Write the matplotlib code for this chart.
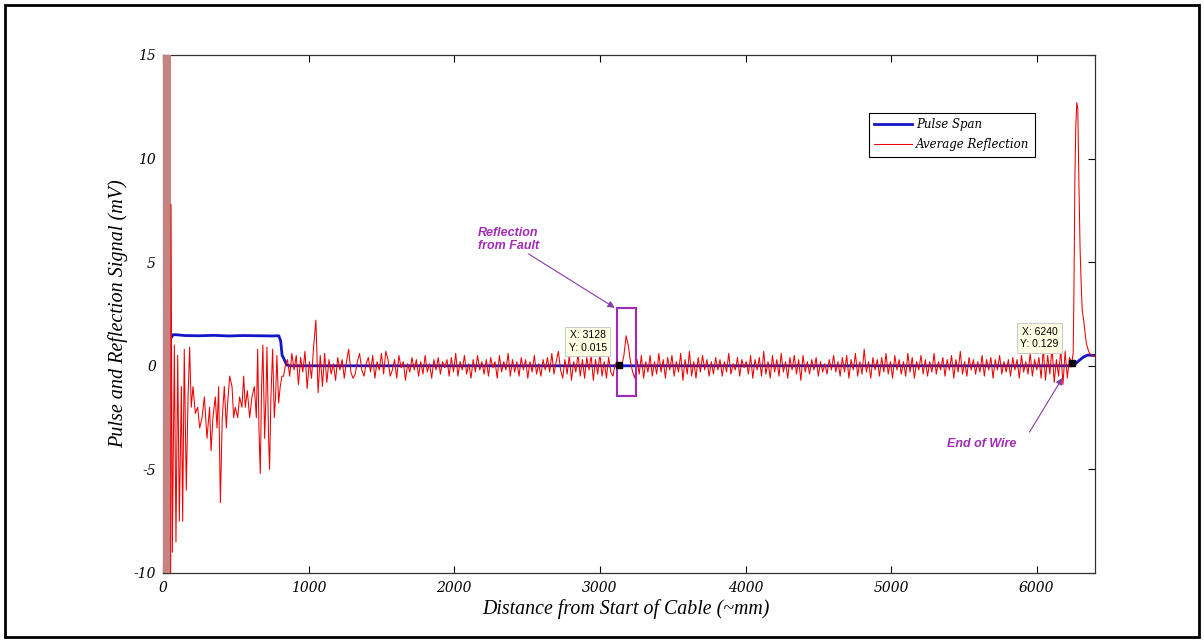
import numpy as np
import matplotlib
matplotlib.use("Agg")
import matplotlib.pyplot as plt
from matplotlib.patches import Rectangle

plt.rcParams['axes.unicode_minus'] = False

# ---------------- data ----------------
# Pulse span (blue)
pulse_x = [0, 10, 25, 40, 55, 70, 90, 150, 250, 350, 450, 550, 650, 750, 795,
           808, 818, 830, 848, 870, 1500, 2500, 3500, 4500, 5500, 6240,
           6262, 6290, 6320, 6350, 6380, 6400]
pulse_y = [0.0, 0.05, 0.8, 1.1, 1.35, 1.5, 1.5, 1.46, 1.45, 1.47, 1.44, 1.46, 1.45, 1.44, 1.45,
           1.2, 0.5, 0.35, 0.05, 0.0, 0.0, 0.0, 0.0, 0.0, 0.0, 0.0,
           0.08, 0.25, 0.42, 0.52, 0.5, 0.5]

# Average reflection (red) - start burst
burst_x = [0, 2, 4, 6, 8, 10, 12, 14, 16, 18, 20, 22, 24, 26, 28, 30, 32, 34, 36,
           38, 40, 42, 44, 46, 48, 50, 52]
burst_y = [0, 20, -15, 20, -15, 20, -15, 20, -15, 20, -15, 20, -15, 20, -15, 20, -15, 20, -15,
           20, -15, 20, -15, 20, -15, 20, -15]

# early ringing section
early_x = [55, 64, 78, 89, 101, 112, 126, 135, 146, 160, 172, 183, 194, 206, 222, 238, 252,
           268, 284, 302, 320, 330, 343, 359, 371, 382, 394, 407, 421, 435, 444, 458, 474,
           485, 496, 513, 526, 542, 554, 565, 579, 595, 611, 627, 641, 650, 659, 668, 677,
           686, 698, 707, 714, 725, 732, 741, 753, 764, 773, 782, 794, 805, 817, 828, 840]
early_y = [7.8, -9.0, 1.0, -8.5, 0.5, -7.5, -1.0, -7.5, 0.8, -6.0, -1.5, 0.9, -2.0, -1.0, -2.3,
           -2.0, -3.0, -2.5, -1.5, -3.5, -2.0, -4.1, -2.5, -1.5, -3.0, -1.0, -6.6, -2.5, -1.0,
           -3.0, -1.8, -0.5, -1.0, -2.5, -2.0, -2.5, -1.5, -2.0, -0.5, -2.0, -1.2, -2.5, -1.5,
           -1.0, -2.5, 0.8, -3.0, -5.2, -1.0, 1.0, -3.5, -1.5, 0.9, -3.5, -5.0, -1.5, 0.8,
           -2.5, -1.5, 0.5, -1.8, -1.0, -0.5, -0.5, 0.0]

# noise floor, sampled every 15 mm from 855 to 6225
noise_start, noise_step = 855, 15
noise_y = [
    0.3, -0.5, 0.6, -0.2, 0.5, -0.9, 0.4, -0.3, 0.7, -1.1, 0.2, -0.6, 1.0, 2.2, -1.3,
    0.5, -1.0, 0.6, -0.8, 0.3, -0.4, 0.1, -0.7, 0.4, -0.2, 0.3, -0.6, 0.2, 0.8, -0.3,
    -0.6, -0.4, 0.2, 0.6, -0.2, -0.5, 0.1, 0.4, -0.3, 0.5, -0.6, 0.2, -0.2, 0.6, -0.4,
    0.7, 0.3, -0.5, -0.2, 0.3, -0.6, 0.5, -0.1, 0.2, -0.7, 0.1, -0.3, 0.4, -0.2, 0.3,
    -0.5, 0.2, -0.4, 0.5, -0.3, 0.1, -0.6, 0.3, -0.2, 0.4, -0.4, 0.2, -0.1, 0.3, -0.5,
    0.4, -0.3, 0.6, -0.5, 0.2, -0.2, 0.5, -0.4, 0.1, -0.6, 0.3, -0.3, 0.5, -0.2, 0.2,
    -0.4, 0.3, -0.5, 0.4, -0.1, 0.2, -0.6, 0.5, -0.3, 0.2, -0.2, 0.6, -0.5, 0.3, -0.3,
    0.2, -0.5, 0.4, -0.2, 0.3, -0.6, 0.2, -0.3, 0.5, -0.4, 0.1, -0.5, 0.3, -0.2, 0.4,
    -0.3, 0.6, -0.4, 0.2, 0.7, -0.2, -0.6, 0.3, -0.4, 0.5, -0.7, 0.2, -0.3, 0.6, -0.5,
    0.3, -0.6, 0.4, -0.2, 0.5, -0.7, 0.3, -0.4, 0.6, -0.5, 0.2, -0.6, 0.4, -0.3, -0.5,
    0.1, 0.0, 0.05, 0.0, 0.5, 1.45, 1.0, 0.2, -0.3, -0.6, 0.3, -0.4, 0.5, -0.6, 0.2,
    -0.3, 0.5, -0.5, 0.2, -0.4, 0.6, -0.3, 0.3, -0.6, 0.4, -0.2, 0.5, -0.5, 0.2, -0.3,
    0.6, -0.7, 0.3, -0.4, 0.7, -0.5, 0.2, -0.6, 0.4, -0.3, 0.5, -0.2, 0.3, -0.5, 0.2,
    -0.4, 0.4, -0.2, 0.3, -0.5, 0.2, -0.3, 0.6, -0.4, 0.1, -0.2, 0.4, -0.5, 0.3, -0.1,
    0.2, -0.4, 0.5, -0.6, 0.3, -0.2, 0.4, -0.5, 0.7, -0.4, 0.2, -0.6, 0.5, -0.3, 0.3,
    -0.5, 0.6, -0.3, 0.2, -0.6, 0.4, -0.2, 0.5, -0.4, 0.3, -0.7, 0.5, -0.3, 0.2, -0.4,
    0.3, -0.2, 0.4, -0.5, 0.2, -0.3, 0.1, -0.4, 0.3, -0.2, 0.5, -0.3, 0.2, -0.5, 0.4,
    -0.3, 0.5, -0.6, 0.3, -0.2, 0.6, -0.5, 0.2, -0.4, 0.8, -0.3, 0.2, -0.6, 0.4, -0.2,
    0.3, -0.5, 0.4, -0.3, 0.6, -0.4, 0.2, -0.6, 0.5, -0.2, 0.3, -0.4, 0.2, -0.5, 0.6,
    -0.3, 0.4, -0.6, 0.2, -0.2, 0.5, -0.4, 0.3, -0.5, 0.2, -0.3, 0.6, -0.4, 0.2, -0.2,
    0.4, -0.5, 0.3, -0.2, 0.5, -0.6, 0.3, -0.3, 0.7, -0.4, 0.2, -0.5, 0.4, -0.2, 0.3,
    -0.4, 0.2, -0.3, 0.5, -0.5, 0.3, -0.2, 0.4, -0.6, 0.3, -0.2, 0.5, -0.4, 0.2, -0.3,
    0.3, -0.5, 0.4, -0.2, 0.3, -0.6, 0.5, -0.3, 0.2, -0.4, 0.6, -0.5, 0.3, -0.2, 0.4,
    -0.6, 0.8, -0.7, 0.5, -0.4, 0.9, -0.8, 0.3, -0.5, 0.8, -0.9, 0.7, -0.6, 0.4,
]

# end-of-wire reflection
end_x = [6240, 6250, 6255, 6262, 6268, 6275, 6282, 6289, 6298, 6305, 6312, 6322, 6332,
         6340, 6352, 6362, 6380, 6400]
end_y = [0.13, 0.6, 3.3, 9.1, 11.5, 12.7, 12.4, 9.0, 5.5, 4.0, 2.7, 2.2, 1.6, 1.1, 0.8,
         0.6, 0.5, 0.45]

# data tips
tip_x = [3128, 6240]
tip_y = [0.015, 0.129]

x_ticks = [0, 1000, 2000, 3000, 4000, 5000, 6000]
y_ticks = [-10, -5, 0, 5, 10, 15]

# ---------------- build series ----------------
noise_x = noise_start + noise_step * np.arange(len(noise_y))
refl_x = np.concatenate([burst_x[-1:], early_x, noise_x, end_x])
refl_y = np.concatenate([burst_y[-1:], early_y, noise_y, end_y])

purple = '#A02CB4'
times_it = dict(family='Liberation Serif', style='italic')

fig = plt.figure(figsize=(12.04, 6.41), dpi=100)
fig.patch.set_facecolor('white')
ax = fig.add_axes([163 / 1204, 1 - 573 / 641, (1095 - 163) / 1204, (573 - 55) / 641])

ax.plot(pulse_x, pulse_y, color='#1414c8', lw=2.0, label='Pulse Span', zorder=2)
# dense start burst renders as a dull rosy band in the original
ax.plot(burst_x, burst_y, color='#c48484', lw=0.7, zorder=3)
ax.plot(refl_x, refl_y, color='#f00000', lw=0.75, label='Average Reflection', zorder=3)

ax.set_xlim(0, 6400)
ax.set_ylim(-10, 15)
ax.set_xticks(x_ticks)
ax.set_yticks(y_ticks)
ax.tick_params(direction='in', top=True, right=True, length=5, width=0.8,
               labelsize=10, colors='black')
ax.tick_params(axis='x', pad=6)
ax.tick_params(axis='y', pad=5)
for lab in ax.get_xticklabels() + ax.get_yticklabels():
    lab.set_fontfamily('DejaVu Serif')
    lab.set_fontstyle('italic')
for sp in ax.spines.values():
    sp.set_linewidth(0.9)
    sp.set_color('#333333')

ax.text(-0.048, 0.5, 'Pulse and Reflection Signal (mV)', transform=ax.transAxes,
        rotation=90, ha='center', va='center', fontsize=14.5, **times_it)
ax.text(0.497, -0.0695, 'Distance from Start of Cable (~mm)', transform=ax.transAxes,
        ha='center', va='center', fontsize=14.3, **times_it)

leg = ax.legend(loc='upper left', bbox_to_anchor=(0.757, 0.888), borderaxespad=0,
                fancybox=False, edgecolor='black', framealpha=1,
                prop=dict(family='DejaVu Serif', style='italic', size=8.5),
                handlelength=3.2, handletextpad=0.4, labelspacing=0.6,
                borderpad=0.45)
leg.get_frame().set_linewidth(0.8)

# fault box and annotations
ax.add_patch(Rectangle((3116, -1.45), 130, 4.25, fill=False, edgecolor=purple,
                       lw=1.5, zorder=5))
ax.annotate('', xy=(3102, 2.8), xytext=(2510, 5.4),
            arrowprops=dict(arrowstyle='-|>', color='#8a3aa8', lw=0.8,
                            mutation_scale=10, shrinkA=0, shrinkB=0))
ax.text(2370, 6.1, 'Reflection\nfrom Fault', ha='center', va='center', color=purple,
        fontsize=9, fontweight='bold', style='italic', family='Liberation Sans',
        linespacing=1.2)

ax.annotate('', xy=(6177, -0.58), xytext=(5950, -3.2),
            arrowprops=dict(arrowstyle='-|>', color='#8a3aa8', lw=0.8,
                            mutation_scale=10, shrinkA=0, shrinkB=0))
ax.text(5621, -3.76, 'End of Wire', ha='center', va='center', color=purple,
        fontsize=9, fontweight='bold', style='italic', family='Liberation Sans')

# data tips
ax.plot(tip_x, tip_y, 's', color='black', markersize=5, zorder=6)
tip_pos = [(2917, 1.18), (6019, 1.35)]
for (tx, ty), px, py in zip(tip_pos, tip_x, tip_y):
    ax.text(tx, ty, f'X: {px}\nY: {py}', ha='center', va='center', fontsize=7.5,
            family='Liberation Sans', color='black', linespacing=1.3, zorder=7,
            bbox=dict(boxstyle='square,pad=0.35', facecolor='#ffffe4',
                      edgecolor='#cccccc', lw=0.8))

# outer figure frame
fig.patches.append(Rectangle((5 / 1204, 4 / 641), 1194 / 1204, 632 / 641,
                             transform=fig.transFigure, fill=False,
                             edgecolor='black', lw=2.0))

fig.savefig('out.png', dpi=100, facecolor='white')
